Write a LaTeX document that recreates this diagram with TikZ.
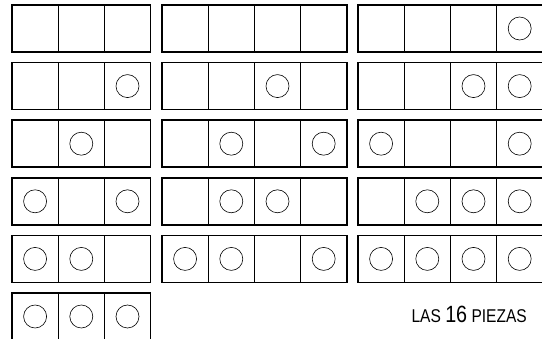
\documentclass[tikz,border=0pt]{standalone}
\usepackage{fontspec}
\usepackage{tikz}
\usetikzlibrary{positioning}
\newfontfamily\rotulofont[FakeStretch=0.84]{Liberation Sans}
\tikzstyle{vacia} = [rectangle, 
minimum width=46.2pt, 
minimum height=47pt, 
inner sep=0pt, 
outer sep=0pt, 
draw=black, 
line width=0.6pt]
\tikzstyle{ficha} = [vacia, 
path picture={\draw[line width=0.6pt] (path picture bounding box.center) circle (11.5pt);}]
\tikzstyle{borde} = [draw=black, line width=1.5pt]

\begin{document}
\begin{tikzpicture}[node distance=0pt]
        \useasboundingbox (0,0) rectangle (542pt,-339pt);
        \clip (0,0) rectangle (542pt,-339pt);

        % --- Fila 1 ---
        \node (p1a) [vacia, anchor=north west] at (12pt,-5pt) {};
        \node (p1b) [vacia, right=of p1a] {};
        \node (p1c) [vacia, right=of p1b] {};
        \node (p2a) [vacia, anchor=north west] at (162pt,-5pt) {};
        \node (p2b) [vacia, right=of p2a] {};
        \node (p2c) [vacia, right=of p2b] {};
        \node (p2d) [vacia, right=of p2c] {};
        \node (p3a) [vacia, anchor=north west] at (358pt,-5pt) {};
        \node (p3b) [vacia, right=of p3a] {};
        \node (p3c) [vacia, right=of p3b] {};
        \node (p3d) [ficha, right=of p3c] {};

        % --- Fila 2 ---
        \node (p4a) [vacia, anchor=north west] at (12pt,-62.6pt) {};
        \node (p4b) [vacia, right=of p4a] {};
        \node (p4c) [ficha, right=of p4b] {};
        \node (p5a) [vacia, anchor=north west] at (162pt,-62.6pt) {};
        \node (p5b) [vacia, right=of p5a] {};
        \node (p5c) [ficha, right=of p5b] {};
        \node (p5d) [vacia, right=of p5c] {};
        \node (p6a) [vacia, anchor=north west] at (358pt,-62.6pt) {};
        \node (p6b) [vacia, right=of p6a] {};
        \node (p6c) [ficha, right=of p6b] {};
        \node (p6d) [ficha, right=of p6c] {};

        % --- Fila 3 ---
        \node (p7a) [vacia, anchor=north west] at (12pt,-120.2pt) {};
        \node (p7b) [ficha, right=of p7a] {};
        \node (p7c) [vacia, right=of p7b] {};
        \node (p8a) [vacia, anchor=north west] at (162pt,-120.2pt) {};
        \node (p8b) [ficha, right=of p8a] {};
        \node (p8c) [vacia, right=of p8b] {};
        \node (p8d) [ficha, right=of p8c] {};
        \node (p9a) [ficha, anchor=north west] at (358pt,-120.2pt) {};
        \node (p9b) [vacia, right=of p9a] {};
        \node (p9c) [vacia, right=of p9b] {};
        \node (p9d) [ficha, right=of p9c] {};

        % --- Fila 4 ---
        \node (p10a) [ficha, anchor=north west] at (12pt,-177.8pt) {};
        \node (p10b) [vacia, right=of p10a] {};
        \node (p10c) [ficha, right=of p10b] {};
        \node (p11a) [vacia, anchor=north west] at (162pt,-177.8pt) {};
        \node (p11b) [ficha, right=of p11a] {};
        \node (p11c) [ficha, right=of p11b] {};
        \node (p11d) [vacia, right=of p11c] {};
        \node (p12a) [vacia, anchor=north west] at (358pt,-177.8pt) {};
        \node (p12b) [ficha, right=of p12a] {};
        \node (p12c) [ficha, right=of p12b] {};
        \node (p12d) [ficha, right=of p12c] {};

        % --- Fila 5 ---
        \node (p13a) [ficha, anchor=north west] at (12pt,-235.4pt) {};
        \node (p13b) [ficha, right=of p13a] {};
        \node (p13c) [vacia, right=of p13b] {};
        \node (p14a) [ficha, anchor=north west] at (162pt,-235.4pt) {};
        \node (p14b) [ficha, right=of p14a] {};
        \node (p14c) [vacia, right=of p14b] {};
        \node (p14d) [ficha, right=of p14c] {};
        \node (p15a) [ficha, anchor=north west] at (358pt,-235.4pt) {};
        \node (p15b) [ficha, right=of p15a] {};
        \node (p15c) [ficha, right=of p15b] {};
        \node (p15d) [ficha, right=of p15c] {};

        % --- Fila 6 ---
        \node (p16a) [ficha, anchor=north west] at (12pt,-293pt) {};
        \node (p16b) [ficha, right=of p16a] {};
        \node (p16c) [ficha, right=of p16b] {};

        % Rotulo
        \node (rotulo) [anchor=base east, inner sep=0pt] at (527pt,-323pt)
            {\rotulofont\fontsize{18.5}{18}\selectfont LAS {\fontsize{23.5}{23}\selectfont 16} PIEZAS};

        % --- Bordes de las piezas ---
        \draw [borde] (p1a.north west) rectangle (p1c.south east);
        \draw [borde] (p2a.north west) rectangle (p2d.south east);
        \draw [borde] (p3a.north west) rectangle (p3d.south east);
        \draw [borde] (p4a.north west) rectangle (p4c.south east);
        \draw [borde] (p5a.north west) rectangle (p5d.south east);
        \draw [borde] (p6a.north west) rectangle (p6d.south east);
        \draw [borde] (p7a.north west) rectangle (p7c.south east);
        \draw [borde] (p8a.north west) rectangle (p8d.south east);
        \draw [borde] (p9a.north west) rectangle (p9d.south east);
        \draw [borde] (p10a.north west) rectangle (p10c.south east);
        \draw [borde] (p11a.north west) rectangle (p11d.south east);
        \draw [borde] (p12a.north west) rectangle (p12d.south east);
        \draw [borde] (p13a.north west) rectangle (p13c.south east);
        \draw [borde] (p14a.north west) rectangle (p14d.south east);
        \draw [borde] (p15a.north west) rectangle (p15d.south east);
        \draw [borde] (p16a.north west) rectangle (p16c.south east);

    \end{tikzpicture}
\end{document}
